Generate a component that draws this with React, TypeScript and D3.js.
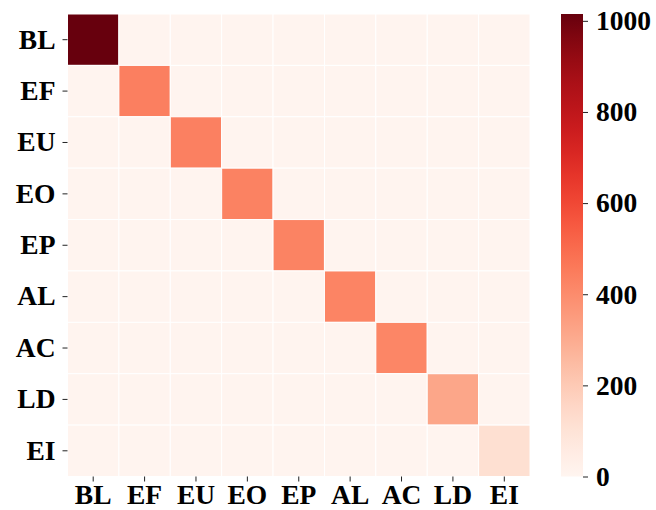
import React, { useEffect, useRef } from "react";
import * as d3 from "d3";

// labels for rows / columns
const labels = ["BL", "EF", "EU", "EO", "EP", "AL", "AC", "LD", "EI"];
const diagValues = [1015, 440, 436, 432, 428, 425, 420, 318, 115];
const offDiagValue = 4;
const colorTicks = [0, 200, 400, 600, 800, 1000];

function App() {
  const ref = useRef<SVGSVGElement>(null);

  useEffect(() => {
    const svg = d3.select(ref.current);
    svg.selectAll("*").remove();

    const left = 67.5, top = 14, size = 462.5;
    const font = "'Liberation Serif', 'Times New Roman', serif";

    const cells: { r: number; c: number; v: number }[] = [];
    labels.forEach((_, r) =>
      labels.forEach((_, c) =>
        cells.push({ r, c, v: r === c ? diagValues[r] : offDiagValue })
      )
    );

    const x = d3.scaleBand<string>().domain(labels).range([left, left + size]);
    const y = d3.scaleBand<string>().domain(labels).range([top, top + size]);
    const color = d3.scaleSequential(d3.interpolateReds).domain([0, 1015]);

    // cells
    svg.append("g")
      .selectAll("rect")
      .data(cells)
      .enter()
      .append("rect")
      .attr("x", d => x(labels[d.c])!)
      .attr("y", d => y(labels[d.r])!)
      .attr("width", x.bandwidth())
      .attr("height", y.bandwidth())
      .attr("fill", d => color(d.v))
      .attr("stroke", "white")
      .attr("stroke-width", 1);

    // y axis
    const yAxis = svg.append("g")
      .attr("transform", `translate(${left},0)`)
      .call(d3.axisLeft(y).tickSize(5).tickPadding(7));
    yAxis.select(".domain").remove();

    // x axis
    const xAxis = svg.append("g")
      .attr("transform", `translate(0,${top + size})`)
      .call(d3.axisBottom(x).tickSize(5).tickPadding(3));
    xAxis.select(".domain").remove();

    // colorbar
    const cbX = 561, cbW = 22;
    const cy = d3.scaleLinear().domain([0, 1015]).range([top + size, top]);
    const defs = svg.append("defs");
    const grad = defs.append("linearGradient")
      .attr("id", "cbgrad")
      .attr("x1", 0).attr("x2", 0).attr("y1", 1).attr("y2", 0);
    d3.range(0, 1.0001, 0.05).forEach(t => {
      grad.append("stop")
        .attr("offset", `${t * 100}%`)
        .attr("stop-color", d3.interpolateReds(t));
    });
    svg.append("rect")
      .attr("x", cbX)
      .attr("y", top)
      .attr("width", cbW)
      .attr("height", size)
      .attr("fill", "url(#cbgrad)");

    const cAxis = svg.append("g")
      .attr("transform", `translate(${cbX + cbW},0)`)
      .call(d3.axisRight(cy).tickValues(colorTicks).tickFormat(d3.format("d")).tickSize(5).tickPadding(8));
    cAxis.select(".domain").remove();

    svg.selectAll(".tick text")
      .style("font-family", font)
      .style("font-weight", "bold")
      .style("font-size", "27.5px")
      .attr("fill", "black");
    svg.selectAll(".tick line").attr("stroke", "#222");
  }, []);

  return (
    <svg
      ref={ref}
      width={656}
      height={510}
      style={{ position: "absolute", left: 0, top: 0, background: "white" }}
    />
  );
}

export default App;
